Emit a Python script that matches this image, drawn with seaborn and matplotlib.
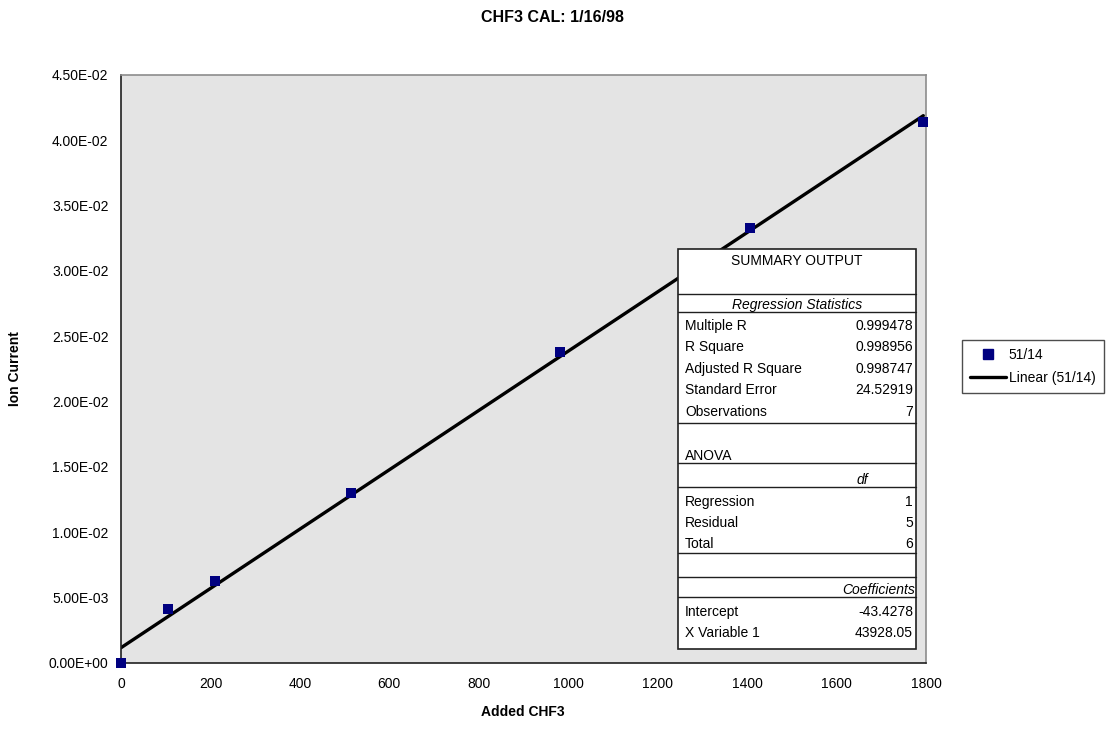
import numpy as np
import pandas as pd
import matplotlib
matplotlib.use("Agg")
import matplotlib.pyplot as plt
from matplotlib.lines import Line2D
from matplotlib.patches import Rectangle
from matplotlib.ticker import MultipleLocator, FuncFormatter
import seaborn as sns

# ---- data ----
added_chf3 = [0, 105, 210, 515, 982, 1407, 1794]
ion_current = [0.0, 0.00413, 0.00628, 0.01302, 0.02381, 0.0333, 0.04142]
series_label = "51/14"
trend_label = "Linear (51/14)"

title = "CHF3 CAL: 1/16/98"
x_label = "Added CHF3"
y_label = "Ion Current"

reg_stat_names = ["Multiple R", "R Square", "Adjusted R Square", "Standard Error", "Observations"]
reg_stat_values = ["0.999478", "0.998956", "0.998747", "24.52919", "7"]
anova_names = ["Regression", "Residual", "Total"]
anova_df = ["1", "5", "6"]
coef_names = ["Intercept", "X Variable 1"]
coef_values = ["-43.4278", "43928.05"]

# ---- style ----
sns.set_style("white")
plt.rcParams["font.family"] = ["Liberation Sans", "DejaVu Sans"]
plt.rcParams["text.color"] = "black"
plt.rcParams["axes.labelcolor"] = "black"
plt.rcParams["xtick.color"] = "black"
plt.rcParams["ytick.color"] = "black"

W, H = 1115, 729
fig = plt.figure(figsize=(W / 100, H / 100), dpi=100)


def fx(px):
    return px / W


def fy(py):
    return 1 - py / H


ax = fig.add_axes([fx(121), fy(663), fx(926) - fx(121), fy(75) - fy(663)])
ax.set_facecolor("#E4E4E4")

df = pd.DataFrame({"x": added_chf3, "y": ion_current})
sns.regplot(data=df, x="x", y="y", ax=ax, ci=None, marker="s",
            scatter_kws=dict(color="#000080", s=42, linewidths=0, zorder=6,
                             alpha=1, clip_on=False),
            line_kws=dict(color="black", lw=2.4, zorder=3))

ax.set_xlim(0, 1800)
ax.set_ylim(0, 0.045)
ax.xaxis.set_major_locator(MultipleLocator(200))
ax.yaxis.set_major_locator(MultipleLocator(0.005))
ax.yaxis.set_major_formatter(FuncFormatter(lambda v, p: "{:.2E}".format(v)))
ax.set_xlabel("")
ax.set_ylabel("")
for s in ["top", "right"]:
    ax.spines[s].set_color("#8C8C8C")
    ax.spines[s].set_linewidth(1.2)
for s in ["left", "bottom"]:
    ax.spines[s].set_color("#202020")
    ax.spines[s].set_linewidth(1.2)
ax.tick_params(axis="x", direction="inout", length=8, width=1, colors="#202020",
               labelsize=10, labelcolor="black", pad=6)
ax.tick_params(axis="y", direction="out", length=5, width=1, colors="#202020",
               labelsize=10, labelcolor="black", pad=4)
for sp in ax.spines.values():
    sp.set_zorder(5)

# titles / labels
fig.text(fx(552), fy(17), title, ha="center", va="center", fontsize=11.5,
         fontweight="bold", color="black")
fig.text(fx(523), fy(712), x_label, ha="center", va="center", fontsize=10,
         fontweight="bold", color="black")
fig.text(fx(15), fy(369), y_label, ha="center", va="center", fontsize=10,
         fontweight="bold", rotation=90, color="black")

# ---- summary output table ----
L, R, T, B = 678, 916, 249, 649
fig.patches.append(Rectangle((fx(L), fy(B)), fx(R) - fx(L), fy(T) - fy(B),
                             transform=fig.transFigure, facecolor="white",
                             edgecolor="#202020", lw=1.2, zorder=6))


def hline(py):
    fig.lines.append(Line2D([fx(L), fx(R)], [fy(py), fy(py)], transform=fig.transFigure,
                            color="#202020", lw=1.0, zorder=7))


def txt(px, py, s, ha="left", style="normal"):
    fig.text(fx(px), fy(py), s, ha=ha, va="center", fontsize=10, style=style,
             zorder=8, color="black")


tl, tr = 685, 913
txt((L + R) / 2, 261, "SUMMARY OUTPUT", ha="center")
hline(294)
txt((L + R) / 2, 305, "Regression Statistics", ha="center", style="italic")
hline(312)
ys = [326, 347, 369, 390, 412]
for yy, n, v in zip(ys, reg_stat_names, reg_stat_values):
    txt(tl, yy, n)
    txt(tr, yy, v, ha="right")
hline(423)
txt(tl, 456, "ANOVA")
hline(463)
txt(868, 480, "df", ha="right", style="italic")
hline(487)
for yy, n, v in zip([502, 523, 544], anova_names, anova_df):
    txt(tl, yy, n)
    txt(tr, yy, v, ha="right")
hline(553)
hline(577)
txt(915, 590, "Coefficients", ha="right", style="italic")
hline(597)
for yy, n, v in zip([612, 633], coef_names, coef_values):
    txt(tl, yy, n)
    txt(tr, yy, v, ha="right")

# ---- legend ----
handles = [Line2D([], [], color="#000080", marker="s", linestyle="none", markersize=6.5),
           Line2D([], [], color="black", lw=2.4)]
leg = fig.legend(handles, [series_label, trend_label], loc="upper left",
                 bbox_to_anchor=(fx(962), fy(340)), borderaxespad=0, fontsize=10,
                 frameon=True, fancybox=False, edgecolor="#202020", handlelength=2.6,
                 handletextpad=0.15, borderpad=0.6, labelspacing=0.6)
leg.get_frame().set_linewidth(1.0)
for t in leg.get_texts():
    t.set_color("black")

fig.savefig("out.png", dpi=100)
